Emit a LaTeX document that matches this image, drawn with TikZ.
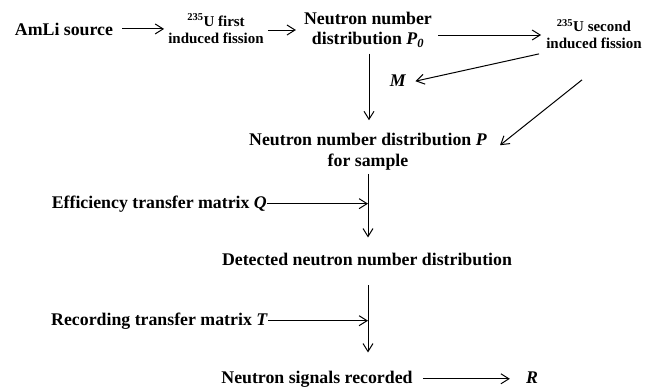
\documentclass[tikz,border=0pt]{standalone}
\usepackage{fontspec}
\setmainfont{Liberation Serif}
\usetikzlibrary{arrows.meta,calc}
\begin{document}
\begin{tikzpicture}[x=1pt,y=-1pt,
  lbl/.style={inner sep=0pt, font=\bfseries\fontsize{17.8}{20}\selectfont, align=center},
  small/.style={inner sep=0pt, font=\bfseries\fontsize{15}{17}\selectfont, align=center},
  arr/.style={line width=1pt, -{Straight Barb[length=8pt,width=10pt]}}]
\useasboundingbox (0,0) rectangle (656,389);
\node[lbl, anchor=base] (amli) at (64,35) {AmLi source};
\node[small] (fis1) at (216,28.5) {\textsuperscript{235}U first\\induced fission};
\node[lbl] (p0) at (368,30) {Neutron number\\distribution \textit{P}\textsubscript{\textit{0}}};
\node[small] (fis2) at (594,34) {\textsuperscript{235}U second\\induced fission};
\node[lbl, anchor=base] (m) at (398,86) {\textit{M}};
\node[lbl, font=\bfseries\fontsize{17.8}{21}\selectfont] (mid) at (368,152) {Neutron number distribution \textit{P}\\for sample};
\node[lbl, anchor=base east] (q) at (267,208) {Efficiency transfer matrix \textit{Q}};
\node[lbl, anchor=base] (det) at (367,265) {Detected neutron number distribution};
\node[lbl, anchor=base east] (t) at (268,325) {Recording transfer matrix \textit{T}};
\node[lbl, anchor=base] (sig) at (317,383) {Neutron signals recorded};
\node[lbl, anchor=base] (r) at (532,383) {\textit{R}};

\draw[arr] ($(amli.east)+(9,0)$) -- ($(fis1.west |- amli.east)+(-4,0)$);
\draw[arr] ($(fis1.east)+(4,1.5)$) -- ($(p0.west |- fis1.east)+(-8,1.5)$);
\draw[arr] ($(p0.east)+(6,5)$) -- ($(fis2.west |- p0.east)+(-5,5)$);
\draw[arr] ($(fis2.south west)+(-7,5)$) -- ($(m.east)+(9,1)$);
\draw[arr] ($(p0.south)+(1,6)$) -- ($(mid.north)+(1,-13)$);
\draw[arr] ($(fis2.south)+(-12,31)$) -- ($(mid.north east)+(13,12)$);
\draw[arr] ($(mid.south)+(0,3)$) -- ($(det.north -| mid.south)+(0,-15)$);
\draw[arr] (q.east) -- (q.east -| mid.south);
\draw[arr] ($(det.south -| mid.south)+(0,20)$) -- ($(sig.north -| mid.south)+(0,-18)$);
\draw[arr] (t.east) -- (t.east -| mid.south);
\draw[arr] ($(sig.east)+(10,0)$) -- ($(r.west |- sig.east)+(-16,0)$);
\end{tikzpicture}
\end{document}
